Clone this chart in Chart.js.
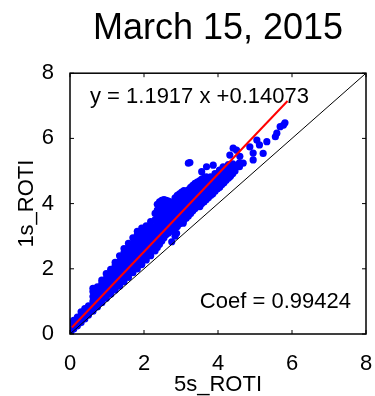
<!DOCTYPE html>
<html>
<head>
<meta charset="utf-8">
<script src="https://cdn.jsdelivr.net/npm/chart.js@4.4.1/dist/chart.umd.min.js"></script>
<style>
  html, body { margin: 0; padding: 0; background: #fff; }
  #wrap { width: 375px; height: 396px; }
</style>
</head>
<body>
<div id="wrap"><canvas id="roti"></canvas></div>
<script>
// 5 s ROTI columns and the 1 s ROTI values found in each column (dense part)
const bandRoti5s = [0.02, 0.1, 0.2, 0.3, 0.4, 0.5, 0.62, 0.74, 0.86, 0.98, 1.1, 1.22, 1.34, 1.46,
  1.58, 1.7, 1.82, 1.94, 2.06, 2.18, 2.3, 2.42, 2.54, 2.66, 2.78, 2.9, 3.02, 3.14, 3.26, 3.38,
  3.5, 3.62, 3.74, 3.86, 3.98, 4.1, 4.22, 4.34, 4.46, 4.58,
  2.36, 2.48, 2.6, 2.72, 2.84, 2.96, 3.08, 3.2, 3.32, 3.44, 3.56, 3.68, 3.8, 3.92, 4.04, 4.16, 4.28, 4.4];
const bandRoti1s = [
  [0.06, 0.18, 0.3],
  [0.15, 0.28, 0.42],
  [0.25, 0.38, 0.52],
  [0.35, 0.5, 0.68],
  [0.46, 0.6, 0.78],
  [0.58, 0.72, 0.86],
  [0.7, 0.85, 1.0, 1.15, 1.3, 1.4],
  [0.83, 0.98, 1.13, 1.28, 1.45],
  [0.96, 1.1, 1.25, 1.4, 1.55, 1.65],
  [1.1, 1.25, 1.4, 1.55, 1.7, 1.85],
  [1.22, 1.37, 1.52, 1.67, 1.82, 1.98],
  [1.35, 1.5, 1.65, 1.8, 1.95, 2.1, 2.2],
  [1.47, 1.62, 1.77, 1.92, 2.07, 2.22, 2.4],
  [1.6, 1.75, 1.9, 2.05, 2.2, 2.35, 2.5, 2.62],
  [1.74, 1.9, 2.05, 2.2, 2.35, 2.5, 2.65, 2.78],
  [1.88, 2.03, 2.18, 2.33, 2.48, 2.63, 2.78, 2.95],
  [2.0, 2.15, 2.3, 2.45, 2.6, 2.75, 2.9, 3.05, 3.15],
  [2.13, 2.28, 2.43, 2.58, 2.73, 2.88, 3.03, 3.18, 3.25],
  [2.27, 2.42, 2.57, 2.72, 2.87, 3.02, 3.17, 3.32],
  [2.4, 2.55, 2.7, 2.85, 3.0, 3.15, 3.3, 3.45],
  [2.55, 2.7, 2.85, 3.0, 3.15, 3.3, 3.5, 3.7],
  [2.75, 2.9, 3.05, 3.2, 3.35, 3.5, 3.7, 3.9, 4.05],
  [2.95, 3.1, 3.25, 3.4, 3.55, 3.7, 3.85, 3.98, 4.12],
  [3.1, 3.3, 3.5, 3.7, 3.9, 4.08],
  [3.2, 3.38, 3.55, 3.72, 3.9, 4.05],
  [3.3, 3.48, 3.66, 3.85, 4.05, 4.25],
  [3.42, 3.6, 3.8, 4.0, 4.2, 4.35],
  [3.55, 3.75, 3.95, 4.15, 4.35],
  [3.7, 3.9, 4.1, 4.3, 4.5],
  [3.85, 4.05, 4.25, 4.45, 4.62],
  [3.95, 4.12, 4.3, 4.5, 4.7],
  [4.05, 4.25, 4.45, 4.65, 4.78],
  [4.18, 4.35, 4.55, 4.75],
  [4.3, 4.5, 4.7],
  [4.45, 4.6, 4.8],
  [4.58, 4.75, 4.95],
  [4.72, 4.86, 5.0],
  [4.85, 5.0, 5.2],
  [5.0, 5.15],
  [5.13, 5.25],
  [2.65, 2.8, 2.95, 3.1, 3.25, 3.42, 3.6, 3.8, 3.98],
  [2.85, 3.0, 3.15, 3.3, 3.48, 3.65, 3.82, 4.0, 4.1],
  [3.05, 3.2, 3.38, 3.56, 3.75, 3.95, 4.1],
  [3.15, 3.32, 3.5, 3.68, 3.86, 4.04],
  [3.25, 3.42, 3.6, 3.8, 4.0, 4.18],
  [3.38, 3.55, 3.72, 3.92, 4.12, 4.3],
  [3.5, 3.7, 3.9, 4.1, 4.28, 4.4],
  [3.62, 3.82, 4.02, 4.22, 4.42],
  [3.78, 3.98, 4.18, 4.38, 4.56],
  [3.9, 4.08, 4.28, 4.48, 4.66],
  [4.0, 4.2, 4.4, 4.6, 4.75],
  [4.12, 4.3, 4.5, 4.7, 4.82],
  [4.25, 4.45, 4.65, 4.82],
  [4.38, 4.56, 4.75, 4.92],
  [4.5, 4.68, 4.86, 5.02],
  [4.64, 4.8, 4.96, 5.1],
  [4.78, 4.93, 5.08, 5.2],
  [4.92, 5.06, 5.22]
];

// scattered samples away from the main band
const tailRoti5s = [2.75, 2.84, 2.88, 3.06, 3.24, 3.51, 3.51, 3.24, 3.2, 3.42, 3.56, 3.69, 3.69, 3.87,
  3.87, 3.87, 4.05, 4.05, 4.14, 4.32, 4.32, 4.41, 4.5, 4.5, 4.68, 4.59, 4.86, 4.95, 4.95, 5.05,
  5.12, 5.22, 5.32, 5.55, 5.59, 5.68, 5.77, 5.81];
const tailRoti1s = [2.83, 3.0, 3.09, 3.4, 3.7, 3.91, 4.21, 5.26, 5.24, 4.62, 4.98, 5.13, 4.72, 5.18,
  4.78, 4.37, 5.03, 4.52, 5.13, 5.49, 4.83, 5.7, 5.64, 5.13, 5.24, 5.45, 5.74, 5.34, 5.55, 5.95,
  5.8, 5.54, 5.9, 6.05, 6.16, 6.36, 6.41, 6.48];

// least squares fit and correlation
const fitSlope = 1.1917;
const fitIntercept = 0.14073;
const fitRange = [0.05, 5.88];
const coef = 0.99424;

const axisTicks = [0, 2, 4, 6, 8];
const FONT = '"Liberation Sans", Arial, Helvetica, sans-serif';

const scatter = [];
bandRoti5s.forEach((x, i) => bandRoti1s[i].forEach(y => scatter.push({ x, y })));
tailRoti5s.forEach((x, i) => scatter.push({ x, y: tailRoti1s[i] }));

const fitLine = fitRange.map(x => ({ x, y: fitSlope * x + fitIntercept }));
const oneToOne = [{ x: 0, y: 0 }, { x: 8, y: 8 }];

// text labels inside the axes
const labels = {
  id: 'labels',
  beforeDatasetsDraw(chart) {
    const { ctx, scales: { x, y } } = chart;
    ctx.save();
    ctx.font = '22px ' + FONT;
    ctx.fillStyle = '#000';
    ctx.textBaseline = 'alphabetic';
    ctx.fillText('y = ' + fitSlope + ' x +' + fitIntercept, x.getPixelForValue(0.54), y.getPixelForValue(7.09));
    ctx.fillText('Coef = ' + coef, x.getPixelForValue(3.51), y.getPixelForValue(0.8));
    ctx.restore();
  }
};

// box around the axes with inward tick marks
const frame = {
  id: 'frame',
  afterDatasetsDraw(chart) {
    const { ctx, chartArea: a, scales: { x, y } } = chart;
    ctx.save();
    ctx.strokeStyle = '#000';
    ctx.lineWidth = 1.5;
    ctx.strokeRect(a.left, a.top, a.right - a.left, a.bottom - a.top);
    ctx.lineWidth = 1;
    ctx.beginPath();
    axisTicks.forEach(v => {
      const px = x.getPixelForValue(v);
      ctx.moveTo(px, a.bottom); ctx.lineTo(px, a.bottom - 4);
      ctx.moveTo(px, a.top); ctx.lineTo(px, a.top + 4);
      const py = y.getPixelForValue(v);
      ctx.moveTo(a.left, py); ctx.lineTo(a.left + 4, py);
      ctx.moveTo(a.right, py); ctx.lineTo(a.right - 4, py);
    });
    ctx.stroke();
    ctx.restore();
  }
};

new Chart(document.getElementById('roti'), {
  type: 'scatter',
  data: {
    datasets: [
      {
        data: scatter,
        backgroundColor: '#0000ff',
        borderWidth: 0,
        pointRadius: 3.6,
        order: 3
      },
      {
        type: 'line',
        data: fitLine,
        borderColor: '#ff0000',
        borderWidth: 2,
        pointRadius: 0,
        order: 2
      },
      {
        type: 'line',
        data: oneToOne,
        borderColor: '#000',
        borderWidth: 1,
        pointRadius: 0,
        order: 1
      }
    ]
  },
  options: {
    responsive: true,
    maintainAspectRatio: false,
    animation: false,
    layout: { padding: { top: 0, right: 9, bottom: 0, left: 0 } },
    plugins: {
      legend: { display: false },
      tooltip: { enabled: false },
      title: {
        display: true,
        fullSize: false,
        text: 'March 15, 2015',
        color: '#000',
        font: { family: FONT, size: 36, weight: 'normal', lineHeight: 1.2 },
        padding: { top: 7, bottom: 23 }
      }
    },
    scales: {
      x: {
        type: 'linear',
        min: 0,
        max: 8,
        grid: { display: false },
        border: { display: false },
        ticks: { stepSize: 2, color: '#000', padding: 9, font: { family: FONT, size: 22 } },
        title: {
          display: true,
          text: '5s_ROTI',
          color: '#000',
          font: { family: FONT, size: 22, lineHeight: 1 },
          padding: { top: 0, bottom: 0 }
        },
        afterFit(scale) {
          scale.height = 62;
          scale.paddingLeft = 0;
          scale.paddingRight = 0;
        }
      },
      y: {
        type: 'linear',
        min: 0,
        max: 8,
        grid: { display: false },
        border: { display: false },
        ticks: { stepSize: 2, color: '#000', padding: 8, font: { family: FONT, size: 22 } },
        title: {
          display: true,
          text: '1s_ROTI',
          color: '#000',
          font: { family: FONT, size: 22, lineHeight: 1 },
          padding: { top: 16, bottom: 0 }
        },
        afterFit(scale) { scale.width = 70; }
      }
    }
  },
  plugins: [labels, frame]
});
</script>
</body>
</html>
